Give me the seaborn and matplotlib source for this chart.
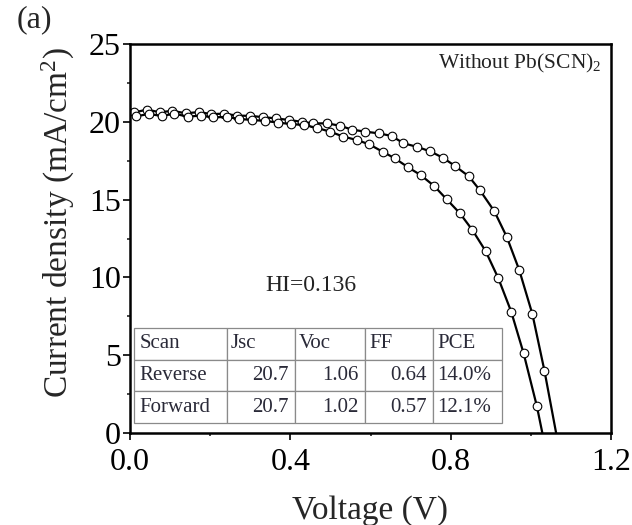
import matplotlib
matplotlib.use("Agg")
import matplotlib.pyplot as plt
import seaborn as sns
import pandas as pd

# ---- data ----
rev_v = [0.010, 0.042, 0.074, 0.106, 0.139, 0.171, 0.203, 0.235, 0.267, 0.300, 0.332,
         0.364, 0.396, 0.428, 0.457, 0.491, 0.524, 0.553, 0.586, 0.620, 0.653, 0.682,
         0.715, 0.749, 0.780, 0.811, 0.845, 0.873, 0.909, 0.940, 0.971, 1.004, 1.034, 1.066]
rev_j = [20.60, 20.78, 20.62, 20.70, 20.55, 20.62, 20.50, 20.52, 20.40, 20.38, 20.30,
         20.22, 20.12, 20.00, 19.90, 19.90, 19.75, 19.50, 19.37, 19.26, 19.09, 18.62,
         18.40, 18.10, 17.70, 17.16, 16.50, 15.60, 14.25, 12.60, 10.48, 7.63, 4.00, -0.40]
fwd_v = [0.014, 0.047, 0.079, 0.111, 0.144, 0.176, 0.208, 0.241, 0.273, 0.305, 0.338,
         0.370, 0.402, 0.434, 0.467, 0.499, 0.532, 0.566, 0.597, 0.630, 0.661, 0.694,
         0.725, 0.759, 0.790, 0.823, 0.854, 0.887, 0.919, 0.951, 0.982, 1.015, 1.047]
fwd_j = [20.35, 20.50, 20.38, 20.52, 20.33, 20.40, 20.28, 20.32, 20.18, 20.12, 20.05,
         19.95, 19.85, 19.80, 19.60, 19.37, 19.05, 18.83, 18.55, 18.08, 17.65, 17.07,
         16.58, 15.87, 15.02, 14.12, 13.05, 11.70, 9.94, 7.80, 5.12, 1.73, -2.30]

table_cols = ["Scan", "Jsc", "Voc", "FF", "PCE"]
scan_names = ["Reverse", "Forward"]
jsc_vals = ["20.7", "20.7"]
voc_vals = ["1.06", "1.02"]
ff_vals = ["0.64", "0.57"]
pce_vals = ["14.0%", "12.1%"]

hi_text = "HI=0.136"
sample_text = r"Without Pb(SCN)$_2$"
panel_label = "(a)"
xticks = [0.0, 0.4, 0.8, 1.2]
xtick_labels = ["0.0", "0.4", "0.8", "1.2"]
yticks = [0, 5, 10, 15, 20, 25]

# ---- style ----
sns.set_style("ticks")
plt.rcParams["font.family"] = ["Liberation Serif", "DejaVu Serif"]
plt.rcParams["mathtext.fontset"] = "custom"
plt.rcParams["mathtext.rm"] = "Liberation Serif"
plt.rcParams["mathtext.default"] = "regular"

fig = plt.figure(figsize=(6.32, 5.25), dpi=100)
ax = fig.add_axes([130/632, 1-433/525, 481/632, 389/525])

line_kw = dict(color="black", marker="o", markersize=6.2, markerfacecolor="white",
               markeredgecolor="black", markeredgewidth=0.8, linewidth=1.6)
sns.lineplot(x=rev_v, y=rev_j, ax=ax, **line_kw)
sns.lineplot(x=fwd_v, y=fwd_j, ax=ax, **line_kw)

ax.set_xlim(0, 1.2)
ax.set_ylim(0, 25)
ax.set_xticks(xticks)
ax.set_xticklabels(xtick_labels)
ax.set_xticks([0.2, 0.6, 1.0], minor=True)
ax.set_yticks(yticks)
ax.set_yticks([2.5, 7.5, 12.5, 17.5, 22.5], minor=True)
ax.tick_params(which="major", direction="out", length=5, width=1.2, labelsize=23,
               colors="black")
ax.tick_params(axis="x", which="major", pad=6)
ax.tick_params(axis="y", which="major", pad=1.5)
ax.tick_params(which="minor", direction="out", length=2.5, width=1.2)
for s in ax.spines.values():
    s.set_linewidth(1.8)
    s.set_color("black")

ax.set_xlabel("Voltage (V)", fontsize=24)
ax.set_ylabel(r"Current density (mA/cm$^{2}$)", fontsize=24)
ax.xaxis.set_label_coords(0.5, -0.16)
ax.yaxis.set_label_coords(-0.11, 0.54)

ax.text(0.452, 9.5, hi_text, fontsize=17, ha="center", va="center", color="#222222")
ax.text(0.981, 0.951, sample_text, transform=ax.transAxes, fontsize=15.5,
        ha="right", va="center", color="#222222")
fig.text(34/632, 1-20/525, panel_label, fontsize=23, ha="center", va="center")

rows = [[n, a, b, c, d] for n, a, b, c, d in zip(scan_names, jsc_vals, voc_vals, ff_vals, pce_vals)]
tb = ax.table(cellText=rows, colLabels=table_cols,
              colWidths=[93, 68, 70, 68, 69],
              bbox=[4/481, 10/389, 368/481, 95/389])
tb.auto_set_font_size(False)
tb.set_fontsize(15)
for (r, c), cell in tb.get_celld().items():
    cell.set_edgecolor("#8a8a8a")
    cell.set_linewidth(0.9)
    cell.set_facecolor("white")
    txt = cell.get_text()
    txt.set_color("#2a2a38")
    if r == 0 or c == 0 or c == 4:
        cell.set_text_props(ha="left")
        cell._loc = "left"
        cell.PAD = 0.06
    else:
        cell._loc = "right"
        cell.set_text_props(ha="right")
        cell.PAD = 0.09

fig.savefig("out.png", dpi=100)
